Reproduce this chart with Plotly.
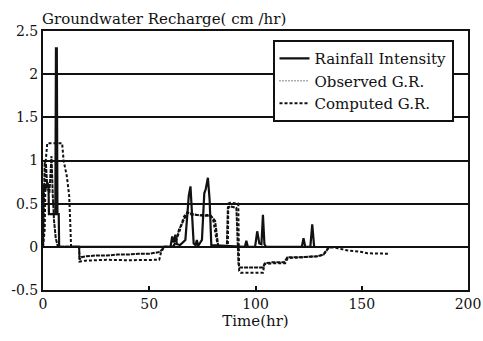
import plotly.graph_objects as go

# Rainfall intensity hyetograph (cm/hr)
rain_t = [0, 0.2, 1.0, 2.0, 2.6, 2.8, 5.8, 6.1, 6.5, 6.8, 7.4, 7.6,
          60.0, 60.8, 61.5, 62.3, 63.0, 64.5, 67.0, 68.6, 69.4, 70.1, 70.9,
          71.8, 72.4, 73.0, 74.8, 75.9, 76.6, 77.6, 78.4, 79.2,
          95.0, 95.7, 96.4, 99.8, 100.8, 101.8, 102.8, 103.5, 104.2, 105.0,
          121.8, 122.6, 123.4, 125.8, 126.7, 127.6]
rain_v = [0, 0.72, 0.65, 0.75, 0.70, 0.38, 0.38, 2.30, 2.30, 0.38, 0.38, 0,
          0, 0.12, 0.05, 0.14, 0.03, 0.02, 0.08, 0.59, 0.70, 0.35, 0.04,
          0.02, 0.08, 0.01, 0.08, 0.62, 0.67, 0.80, 0.55, 0.02,
          0, 0.07, 0, 0, 0.18, 0.04, 0.03, 0.37, 0.03, 0,
          0, 0.10, 0, 0, 0.26, 0]

# Observed groundwater recharge (cm/hr)
obs_t = [0, 0.4, 0.8, 1.4, 2.0, 3.0, 3.6, 4.0, 4.6, 5.2, 6.0, 7.0,
         17.0, 17.2, 18.0, 20.0, 25.0, 30.0, 35.0, 40.0, 45.0, 50.0, 55.0, 57.0,
         61.0, 62.5, 64.0, 66.0, 68.0, 70.0, 75.0, 79.0, 81.0, 82.5,
         86.5, 87.0, 88.0, 91.0, 91.8, 92.0, 92.5, 103.5,
         104.5, 108.0, 113.5, 115.0, 122.0, 129.0, 132.0, 134.5, 137.0]
obs_v = [0, 0.50, 1.00, 0.95, 0.70, 0.62, 0.90, 1.05, 0.60, 0.30, 0.10, 0,
         0, -0.15, -0.12, -0.11, -0.10, -0.10, -0.09, -0.09, -0.08, -0.08, -0.06, 0,
         0, 0.05, 0.20, 0.30, 0.40, 0.38, 0.36, 0.36, 0.30, 0,
         0, 0.45, 0.47, 0.45, 0, -0.20, -0.24, -0.24,
         -0.19, -0.18, -0.18, -0.12, -0.12, -0.11, -0.09, -0.01, 0]

# Computed groundwater recharge (cm/hr)
comp_t = [0, 0.8, 1.3, 2.0, 9.0, 9.7, 11.2, 12.3, 12.8, 13.2,
          17.0, 17.2, 20.0, 30.0, 40.0, 50.0, 54.7, 55.5, 57.0,
          61.5, 62.4, 64.5, 66.3, 68.0, 70.1, 78.4, 80.2, 81.5, 82.6,
          87.0, 87.2, 88.0, 91.9, 92.1, 92.3, 93.0, 103.5,
          104.2, 108.0, 114.0, 115.2, 122.0, 129.0, 132.0, 134.5,
          138.4, 143.0, 150.0, 152.6, 163.0]
comp_v = [0, 0.20, 1.00, 1.20, 1.20, 1.00, 0.82, 0.60, 0.30, 0,
          0, -0.17, -0.16, -0.15, -0.155, -0.15, -0.15, -0.07, 0,
          0, 0.06, 0.20, 0.35, 0.40, 0.37, 0.37, 0.30, 0.10, 0,
          0, 0.50, 0.51, 0.50, 0, -0.28, -0.30, -0.30,
          -0.20, -0.19, -0.19, -0.13, -0.12, -0.11, -0.09, 0,
          -0.015, -0.04, -0.06, -0.075, -0.08]

# Axis ticks
x_ticks = [0, 50, 100, 150, 200]
y_ticks = [-0.5, 0, 0.5, 1, 1.5, 2, 2.5]
y_tick_text = ["-0.5", "0", "0.5", "1", "1.5", "2", "2.5"]

FONT = "DejaVu Serif"
INK = "#111111"

fig = go.Figure()

fig.add_trace(go.Scatter(
    x=rain_t, y=rain_v, mode="lines", name="Rainfall Intensity",
    line=dict(color=INK, width=2.2)))

fig.add_trace(go.Scatter(
    x=obs_t, y=obs_v, mode="lines", name="Observed G.R.", showlegend=False,
    line=dict(color=INK, width=2, dash="4px,1px")))
# legend key for the observed series (fine dotted)
fig.add_trace(go.Scatter(
    x=[None], y=[None], mode="lines", name="Observed G.R.",
    line=dict(color=INK, width=1, dash="1px,2px")))

fig.add_trace(go.Scatter(
    x=comp_t, y=comp_v, mode="lines", name="Computed G.R.",
    line=dict(color=INK, width=2, dash="3px,2px")))

fig.add_annotation(
    text="Groundwater Recharge( cm /hr)", xref="paper", yref="paper",
    x=-0.006, y=1, xanchor="left", yanchor="bottom", yshift=1,
    showarrow=False, font=dict(family=FONT, size=15, color=INK))

fig.update_layout(
    width=483, height=341,
    margin=dict(l=43, r=15, t=31, b=51),
    paper_bgcolor="white", plot_bgcolor="white",
    font=dict(family=FONT, size=15, color=INK),
    showlegend=True,
    legend=dict(x=0.54, y=0.965, xanchor="left", yanchor="top",
                bgcolor="white", bordercolor=INK, borderwidth=2,
                font=dict(family=FONT, size=15, color=INK),
                itemwidth=30, tracegroupgap=0),
)

fig.update_xaxes(
    range=[0, 200], tickvals=x_ticks, showgrid=False, zeroline=False,
    showline=True, mirror=True, linecolor=INK, linewidth=2,
    ticks="inside", ticklen=4, tickcolor=INK, tickwidth=1.5,
    ticklabeloverflow="allow",
    title=dict(text="Time(hr)", standoff=4, font=dict(family=FONT, size=15)),
    tickfont=dict(family=FONT, size=14), automargin=False)

fig.update_yaxes(
    range=[-0.5, 2.5], tickvals=y_ticks, ticktext=y_tick_text,
    showgrid=True, gridcolor=INK, gridwidth=1.5,
    zeroline=True, zerolinecolor=INK, zerolinewidth=2,
    showline=True, mirror=True, linecolor=INK, linewidth=2,
    ticks="", tickfont=dict(family=FONT, size=14), automargin=False)

fig.write_html("out.html")
